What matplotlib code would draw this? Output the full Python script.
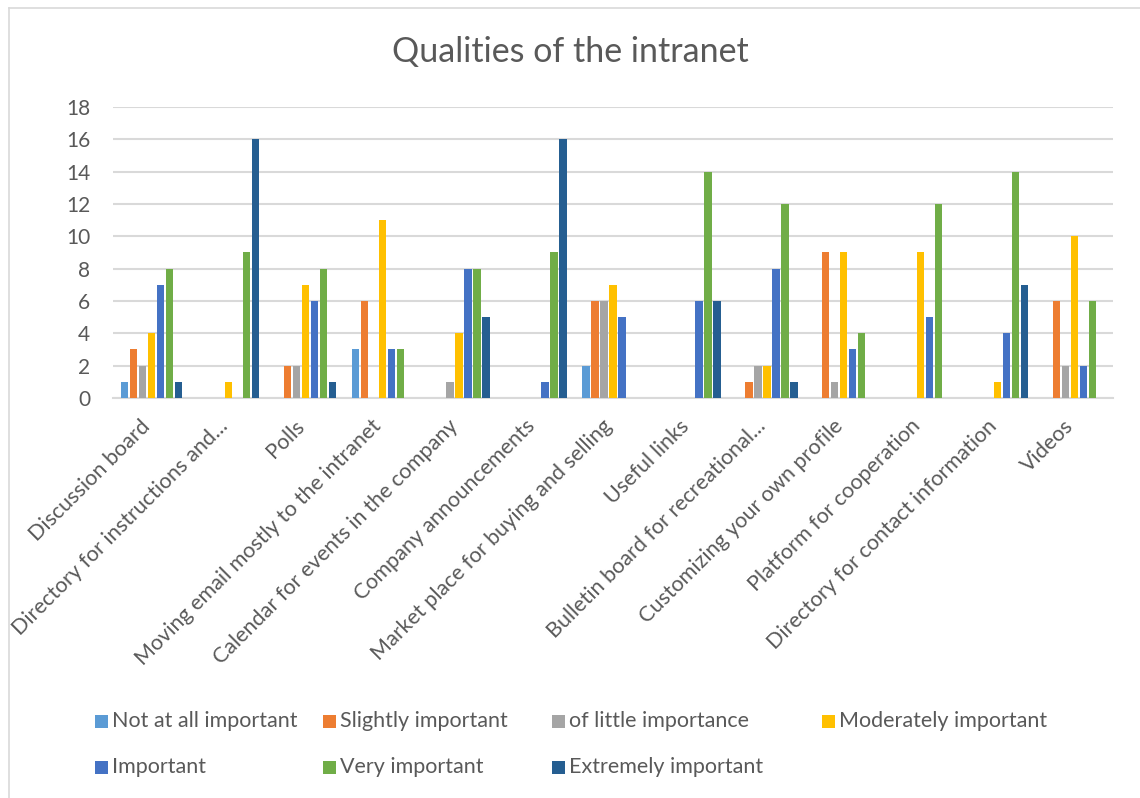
import matplotlib.pyplot as plt
import matplotlib.patches as mpatches
from matplotlib.transforms import ScaledTranslation
import numpy as np

plt.rcParams['font.family'] = ['Lato', 'DejaVu Sans']

categories = ['Discussion board', 'Directory for instructions and...', 'Polls',
              'Moving email mostly to the intranet', 'Calendar for events in the company',
              'Company announcements', 'Market place for buying and selling', 'Useful links',
              'Bulletin board for recreational...', 'Customizing your own profile',
              'Platform for cooperation', 'Directory for contact information', 'Videos']

series_names = ['Not at all important', 'Slightly important', 'of little importance',
                'Moderately important', 'Important', 'Very important', 'Extremely important']

not_at_all = [1, 0, 0, 3, 0, 0, 2, 0, 0, 0, 0, 0, 0]
slightly = [3, 0, 2, 6, 0, 0, 6, 0, 1, 9, 0, 0, 6]
little = [2, 0, 2, 0, 1, 0, 6, 0, 2, 1, 0, 0, 2]
moderately = [4, 1, 7, 11, 4, 0, 7, 0, 2, 9, 9, 1, 10]
important = [7, 0, 6, 3, 8, 1, 5, 6, 8, 3, 5, 4, 2]
very = [8, 9, 8, 3, 8, 9, 0, 14, 12, 4, 12, 14, 6]
extremely = [1, 16, 1, 0, 5, 16, 0, 6, 1, 0, 0, 7, 0]

series = [not_at_all, slightly, little, moderately, important, very, extremely]
colors = ['#5B9BD5', '#ED7D31', '#A5A5A5', '#FFC000', '#4472C4', '#70AD47', '#255E91']

text_color = '#595959'

fig = plt.figure(figsize=(11.4, 7.98), dpi=100)
ax = fig.add_axes([0.0991, 0.5013, 0.8772, 0.3646])

x = np.arange(len(categories))
slot = 0.117
for i, (vals, color) in enumerate(zip(series, colors)):
    offset = (i - 3) * slot
    ax.bar(x + offset, vals, width=slot * 0.82, color=color, zorder=3)

ax.set_xlim(-0.5, len(categories) - 0.5)
ax.set_ylim(0, 18)
ax.set_yticks(range(0, 19, 2))
ax.yaxis.grid(True, color='#D9D9D9', linewidth=1.5, zorder=0)
ax.set_axisbelow(True)
for s in ['top', 'right', 'left']:
    ax.spines[s].set_visible(False)
ax.spines['bottom'].set_color('#D9D9D9')
ax.spines['bottom'].set_linewidth(1.5)

ax.tick_params(axis='y', length=0, pad=16.5, labelsize=15, labelcolor=text_color)
ax.tick_params(axis='x', length=0, pad=13, labelsize=15.5, labelcolor=text_color)
ax.set_xticks(x)
ax.set_xticklabels(categories, rotation=45, ha='right', rotation_mode='anchor')
shift = ScaledTranslation(-11 / 100, 0, fig.dpi_scale_trans)
for lbl in ax.get_xticklabels():
    lbl.set_transform(lbl.get_transform() + shift)

fig.text(0.5, 0.935, 'Qualities of the intranet', ha='center', va='center',
         fontsize=24.5, color=text_color)

# Legend, Excel style
leg_cols = [95, 323, 552, 822]
row_y = [1 - 721 / 798, 1 - 767 / 798]
sq_w = 13 / 1140
sq_h = 13 / 798
for i, (name, color) in enumerate(zip(series_names, colors)):
    r, c = divmod(i, 4)
    lx = leg_cols[c] / 1140
    ly = row_y[r]
    fig.patches.append(mpatches.Rectangle((lx, ly - sq_h / 2), sq_w, sq_h,
                                          transform=fig.transFigure,
                                          facecolor=color, edgecolor='none'))
    fig.text(lx + sq_w + 4 / 1140, ly, name, ha='left', va='center',
             fontsize=15.5, color=text_color)

# chart border (only top and left visible in reference)
fig.add_artist(plt.Line2D([9 / 1140, 9 / 1140], [0, 1 - 8 / 798],
                          transform=fig.transFigure, color='#D9D9D9', linewidth=1.2))
fig.add_artist(plt.Line2D([9 / 1140, 1], [1 - 8 / 798, 1 - 8 / 798],
                          transform=fig.transFigure, color='#D9D9D9', linewidth=1.2))

fig.savefig('out.png', dpi=100)
